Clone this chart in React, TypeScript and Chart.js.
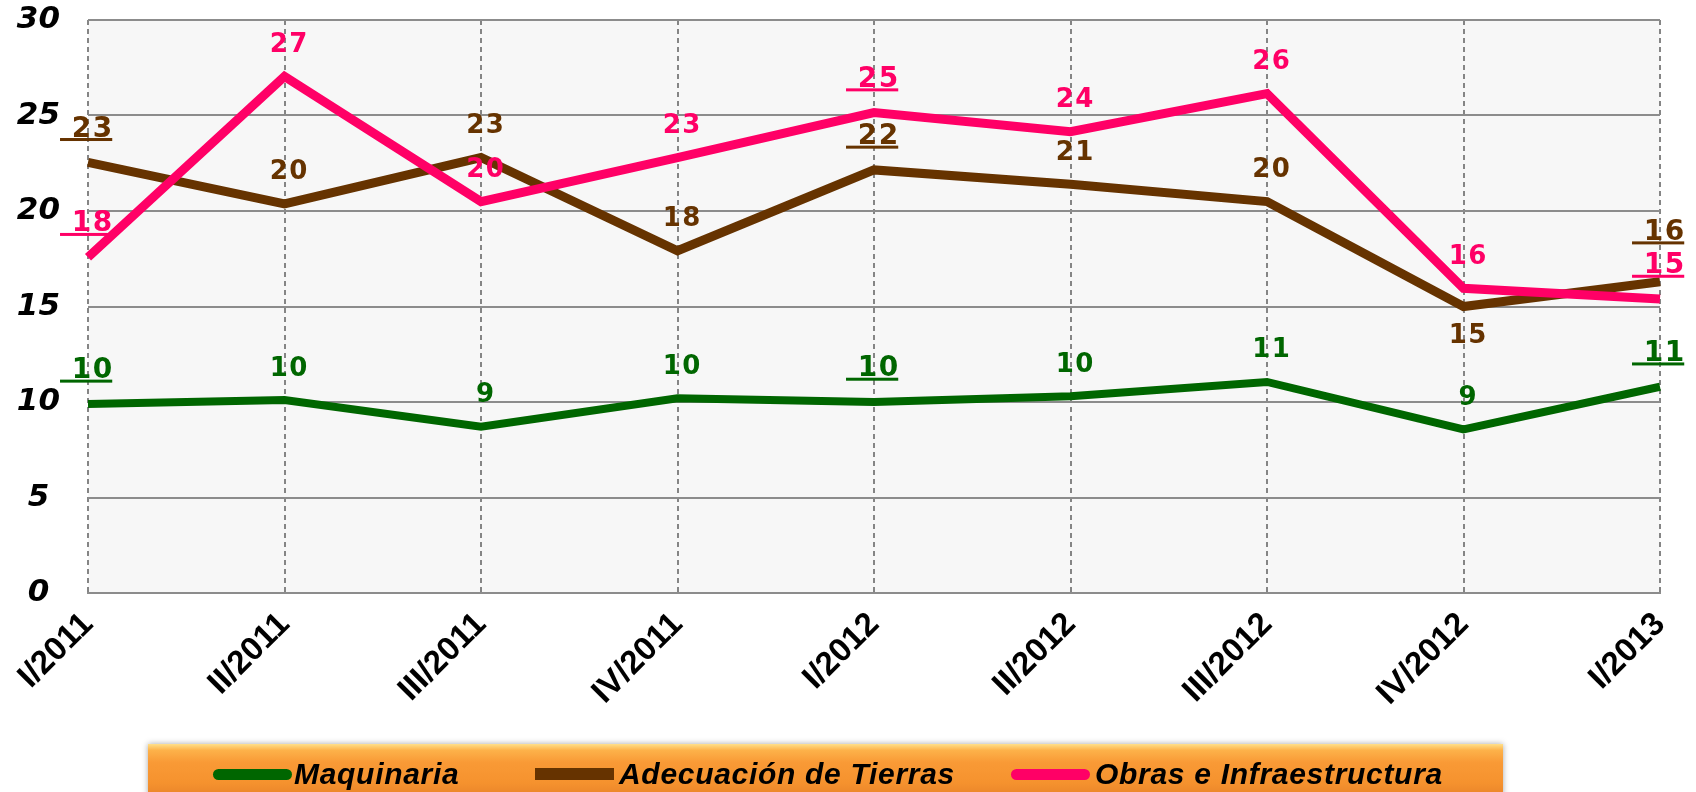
import React, { useEffect, useRef } from "react";
import { Chart, registerables } from "chart.js";

Chart.register(...registerables);

// ---- data ----
const categories = ["I/2011", "II/2011", "III/2011", "IV/2011", "I/2012", "II/2012", "III/2012", "IV/2012", "I/2013"];
const maquinaria = [9.9, 10.1, 8.7, 10.2, 10.0, 10.3, 11.05, 8.57, 10.8];
const adecuacion = [22.55, 20.37, 22.8, 17.92, 22.15, 21.4, 20.49, 15.0, 16.3];
const obras = [17.58, 27.05, 20.49, 22.8, 25.15, 24.15, 26.15, 15.95, 15.39];
const seriesNames = ["Maquinaria", "Adecuación de Tierras", "Obras e Infraestructura"];
const seriesColors = ["#006600", "#663300", "#FF0066"];
const yMin = 0;
const yMax = 30;
const yStep = 5;

// label styling (which labels are underlined / placed differently)
const underlinedIdx = [0, 4, 8];
const labelShift: number[][] = [
  [0, 0, 0, 0, 0, 0, 0, 0, 0],
  [0, 0, 0, 0, 0, 0, 0, 61, -16],
  [0, 0, 0, 0, 0, 0, 0, 0, 0],
];

const bgPlugin = {
  id: "plotBg",
  beforeDraw(chart: any) {
    const { ctx, chartArea } = chart;
    ctx.save();
    ctx.fillStyle = "#F7F7F7";
    ctx.fillRect(chartArea.left, chartArea.top, chartArea.right - chartArea.left, chartArea.bottom - chartArea.top);
    ctx.restore();
  },
};

const labelPlugin = {
  id: "valueLabels",
  afterDatasetsDraw(chart: any) {
    const ctx = chart.ctx;
    chart.data.datasets.forEach((ds: any, di: number) => {
      const meta = chart.getDatasetMeta(di);
      meta.data.forEach((pt: any, i: number) => {
        const v = ds.data[i];
        const text = String(Math.round(v));
        const ul = underlinedIdx.includes(i);
        const size = ul ? 28 : 26;
        const ls = 1.5;
        ctx.save();
        ctx.font = `bold ${size}px "DejaVu Sans"`;
        (ctx as any).letterSpacing = ls + "px";
        ctx.fillStyle = ds.borderColor;
        ctx.textAlign = "left";
        ctx.textBaseline = "alphabetic";
        const w = ctx.measureText(text).width - ls;
        const cx = pt.x + 4;
        const cy = pt.y + (ul ? -36 : -34) + labelShift[di][i];
        const base = cy + size * 0.365;
        ctx.fillText(text, cx - w / 2, base);
        if (ul) {
          (ctx as any).letterSpacing = "0px";
          const sw = ctx.measureText(" ").width;
          ctx.fillRect(cx - w / 2 - sw - 2, base + 1.5, w + sw + 2, 3);
        }
        ctx.restore();
      });
    });
  },
};

export default function App() {
  const ref = useRef<HTMLCanvasElement | null>(null);

  useEffect(() => {
    if (!ref.current) return;
    const datasets = [maquinaria, adecuacion, obras].map((d, k) => ({
      label: seriesNames[k],
      data: d,
      borderColor: seriesColors[k],
      backgroundColor: seriesColors[k],
      borderWidth: k === 0 ? 8 : 9,
      pointRadius: 0,
      pointHoverRadius: 0,
      tension: 0,
      borderJoinStyle: "miter" as const,
      order: 2 - k,
    }));
    const chart = new Chart(ref.current, {
      type: "line",
      data: { labels: categories, datasets },
      plugins: [bgPlugin, labelPlugin],
      options: {
        animation: false,
        responsive: false,
        devicePixelRatio: 1,
        layout: { padding: { left: 0, top: 20, right: 36, bottom: 0 } },
        plugins: { legend: { display: false }, tooltip: { enabled: false } },
        scales: {
          x: {
            offset: false,
            grid: { color: "#858585", lineWidth: 2, drawTicks: false },
            border: { display: true, color: "#8c8c8c", width: 2, dash: [5, 4] },
            ticks: {
              autoSkip: false,
              maxRotation: 45,
              minRotation: 45,
              padding: 12,
              color: "#000",
              font: { family: '"Liberation Sans", Arial', size: 33, weight: "bold" },
            },
            afterFit(s: any) {
              s.height = 199;
              s.paddingLeft = 0;
              s.paddingRight = 0;
            },
          },
          y: {
            min: yMin,
            max: yMax,
            grid: { color: "#8c8c8c", lineWidth: 2, drawTicks: false },
            border: { display: false },
            ticks: {
              stepSize: yStep,
              crossAlign: "center",
              padding: 28,
              color: "#000",
              font: { family: '"DejaVu Sans"', size: 31, weight: "bold", style: "italic" },
            },
            afterFit(s: any) {
              s.width = 88;
              s.paddingTop = 0;
              s.paddingBottom = 0;
            },
          },
        },
      },
    });
    return () => chart.destroy();
  }, []);

  const legendItems = [
    { swatch: 213, text: 294, round: true, h: 11 },
    { swatch: 535, text: 619, round: false, h: 12 },
    { swatch: 1011, text: 1095, round: true, h: 11 },
  ];

  return (
    <div style={{ position: "fixed", left: 0, top: 0, width: 1696, height: 792, background: "#fff", overflow: "hidden" }}>
      <canvas ref={ref} width={1696} height={792} style={{ position: "absolute", left: 0, top: 0, width: 1696, height: 792 }} />
      <div
        style={{
          position: "absolute",
          left: 148,
          top: 744,
          width: 1355,
          height: 52,
          background: "linear-gradient(to bottom, #FFE08A 0%, #FDB24A 12%, #F99A36 35%, #F5922E 75%, #E9842A 100%)",
          boxShadow: "0 0 6px rgba(0,0,0,0.35)",
        }}
      />
      {legendItems.map((it, k) => (
        <React.Fragment key={k}>
          <div
            style={{
              position: "absolute",
              left: it.swatch,
              top: 774 - it.h / 2,
              width: 79,
              height: it.h,
              borderRadius: it.round ? it.h / 2 : 0,
              background: seriesColors[k],
            }}
          />
          <div
            style={{
              position: "absolute",
              left: it.text,
              top: 774 - 18,
              height: 36,
              lineHeight: "36px",
              fontFamily: '"Liberation Sans", Arial, sans-serif',
              fontWeight: "bold",
              fontStyle: "italic",
              fontSize: 30,
              letterSpacing: 0.7,
              color: "#000",
              whiteSpace: "nowrap",
            }}
          >
            {seriesNames[k]}
          </div>
        </React.Fragment>
      ))}
    </div>
  );
}
